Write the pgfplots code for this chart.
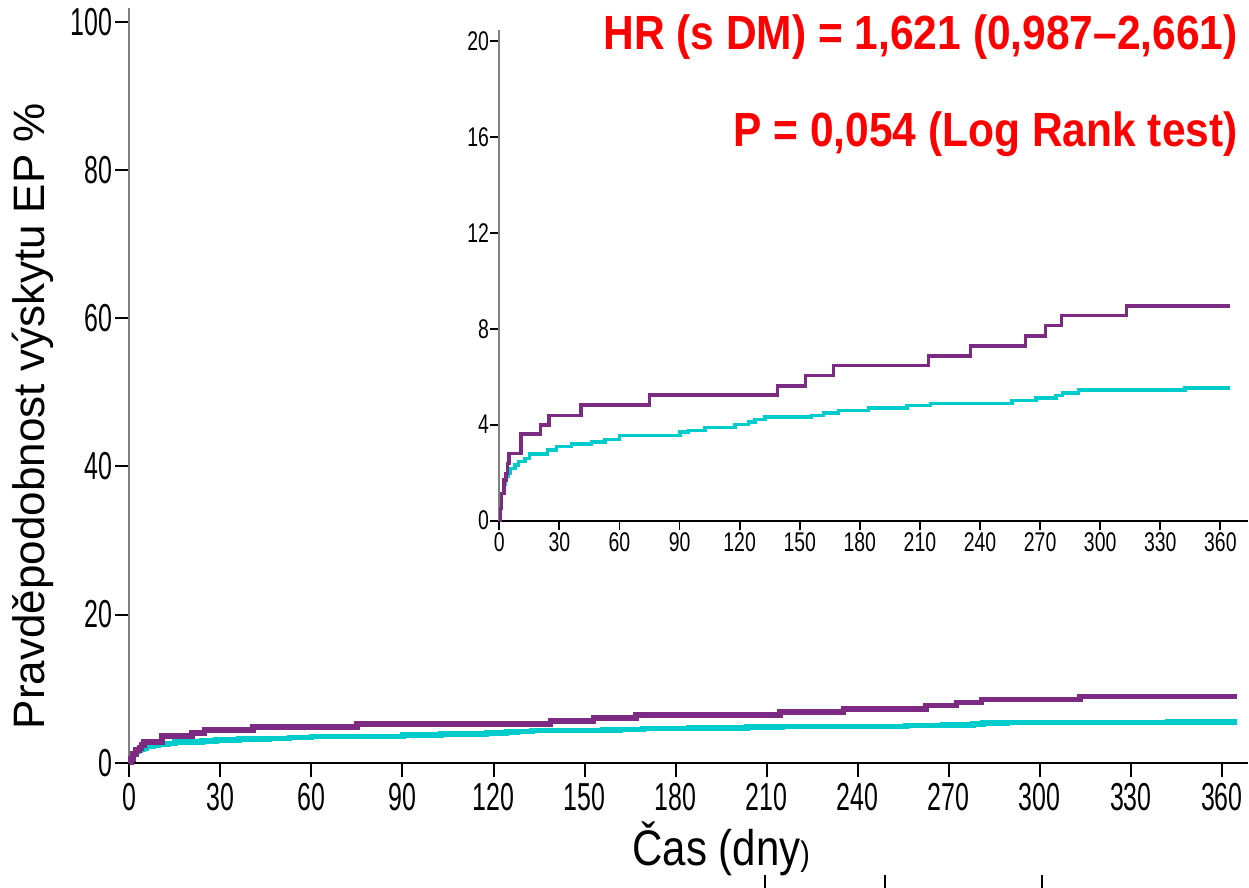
\documentclass[border=0pt]{standalone}
\usepackage{fontspec}
\setmainfont{Liberation Sans}
\newfontfamily\narrowfont[FakeStretch=0.64]{Liberation Sans}
\newfontfamily\insetfont[FakeStretch=0.72]{Liberation Sans}
\newfontfamily\redfont[FakeStretch=0.885]{Liberation Sans}
\newfontfamily\labelfont[FakeStretch=0.84]{Liberation Sans}
\usepackage{pgfplots}
\pgfplotsset{compat=1.18}
\definecolor{kmpurple}{RGB}{125,42,130}
\definecolor{kmcyan}{RGB}{0,204,204}
\definecolor{axgray}{RGB}{128,128,128}
\definecolor{txtred}{RGB}{255,0,0}

% s DM
\pgfplotstableread{
day val
0 0
0.6 0.5
1.2 1.14
2.3 1.7
3.3 1.97
4.0 2.39
4.8 2.81
10.8 3.61
20.7 3.99
24.8 4.40
40.8 4.82
75 5.24
138.8 5.61
153 6.04
167 6.46
214.4 6.86
235.3 7.28
262.6 7.70
272.6 8.12
280.8 8.54
313.2 8.95
365 8.95
}\dmdata

% bez DM
\pgfplotstableread{
day val
0 0
0.6 0.5
1.2 1.14
2.0 1.5
2.85 1.7
3.6 1.85
4.5 1.97
5.7 2.18
7.8 2.32
9.5 2.46
12.8 2.6
15 2.78
24 2.94
28.6 3.08
36.1 3.19
46.1 3.28
52.8 3.38
60 3.56
90.2 3.7
94.4 3.77
102.7 3.88
117.7 4.02
124.3 4.11
127.7 4.21
132.6 4.32
156 4.39
161.8 4.48
169.3 4.59
184.3 4.70
203.5 4.80
215.2 4.89
255.9 5.0
267.9 5.12
278 5.21
281.3 5.32
289.3 5.45
342.3 5.53
365 5.53
}\nodmdata

\begin{document}
\begin{tikzpicture}[x=1pt,y=1pt]
\useasboundingbox (-64.65,-62.65) rectangle (559.85,381.35);

% hlavni graf
\begin{axis}[
    at={(0,0)}, anchor=south west,
    scale only axis,
    width=559.35pt, height=377.35pt,
    xmin=0, xmax=368.6, ymin=0, ymax=101.9,
    axis x line=bottom, axis y line=left,
    axis line style={-, line width=1pt},
    y axis line style={axgray},
    tick align=outside, major tick length=7pt,
    tick style={black, line width=1pt},
    xtick={0,30,...,360}, ytick={0,20,...,100},
    /pgf/number format/assume math mode=true,
    ticklabel style={font=\narrowfont\fontsize{19.5}{19.5}\selectfont},
    yticklabel style={inner sep=1.5pt},
    clip=false,
]
\addplot[const plot, kmcyan, line width=2.8pt] table[x=day, y=val] {\nodmdata};
\addplot[const plot, kmpurple, line width=2.8pt] table[x=day, y=val] {\dmdata};
\end{axis}

% vlozeny graf
\begin{axis}[
    at={(185pt,121pt)}, anchor=south west,
    scale only axis,
    width=374.35pt, height=245.35pt,
    xmin=0, xmax=373.8, ymin=0, ymax=20.45,
    axis x line=bottom, axis y line=left,
    axis line style={-, line width=0.9pt},
    y axis line style={axgray},
    tick align=outside, major tick length=4.5pt,
    tick style={black, line width=0.9pt},
    xtick={0,30,...,360}, ytick={0,4,...,20},
    /pgf/number format/assume math mode=true,
    ticklabel style={font=\insetfont\fontsize{13.5}{13.5}\selectfont},
    yticklabel style={inner sep=0.5pt},
    xticklabel style={inner sep=1.5pt},
    clip=false,
]
\addplot[const plot, kmcyan, line width=1.7pt] table[x=day, y=val] {\nodmdata};
\addplot[const plot, kmpurple, line width=1.6pt] table[x=day, y=val] {\dmdata};
\end{axis}

\node[rotate=90, anchor=base, font=\fontsize{22}{22}\selectfont] at (-42.15,173.35) {Pravděpodobnost výskytu EP \%};
\node[anchor=base west, inner sep=0pt, font=\labelfont\fontsize{25}{25}\selectfont] at (251.35,-51.65) {Čas (dny{\fontsize{17}{17}\selectfont)}};
\node[anchor=base east, inner sep=0pt, text=txtred, font=\redfont\bfseries\fontsize{24}{24}\selectfont] at (554.35,356.35) {HR (s DM) = 1,621 (0,987–2,661)};
\node[anchor=base east, inner sep=0pt, text=txtred, font=\redfont\bfseries\fontsize{24}{24}\selectfont] at (554.35,307.85) {P = 0,054 (Log Rank test)};
\foreach \xx in {317.85,377.85,456.35} \draw[line width=1pt] (\xx,-56.15) -- (\xx,-62.65);
\end{tikzpicture}
\end{document}
